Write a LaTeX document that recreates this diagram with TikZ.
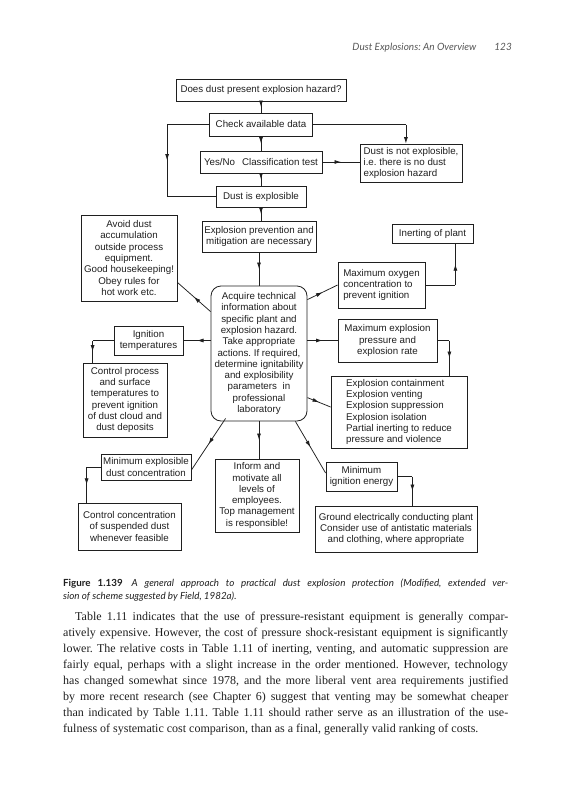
\documentclass[tikz,border=0pt]{standalone}
\usepackage{fontspec}
\setmainfont{Liberation Serif}
\newfontfamily\diagfont{Liberation Sans}
\newfontfamily\capfont{Lato}
\usetikzlibrary{arrows.meta,decorations.markings}
\definecolor{ink}{gray}{0.12}
\frenchspacing
\begin{document}
\frenchspacing
\begin{tikzpicture}[x=1pt,y=-1pt,
  box/.style={draw=ink, line width=0.8pt, inner sep=0pt, align=center, text=ink,
    font=\diagfont\fontsize{9.75}{11.3}\selectfont},
  lbox/.style={box, align=left},
  conn/.style={draw=ink, line width=0.75pt},
  midarrow/.style={postaction={decorate}, decoration={markings,
    mark=at position 0.5 with {\arrow{Latex[length=6.5pt,width=4pt]}}}},
  endarrow/.style={-{Latex[length=6.5pt,width=4pt]}},
  bodyline/.style={anchor=base west, inner sep=0pt, text=ink, font=\fontsize{12}{16}\selectfont},
  capline/.style={anchor=base west, inner sep=0pt, text=ink, font=\capfont\fontsize{9.8}{12}\selectfont},
]
\useasboundingbox (0,0) rectangle (562,800);

% header
\node[anchor=base east, inner sep=0pt, text=ink!75, font=\capfont\itshape\fontsize{10}{12}\selectfont]
  (header) at (512,51) {Dust Explosions: An Overview\hspace{18pt}123};

% boxes
\node[box, minimum width=170pt, minimum height=22pt] (q) at (261,90) {Does dust present explosion hazard?};
\node[box, minimum width=103pt, minimum height=23pt] (check) at (261,124.5) {Check available data};
\node[box, minimum width=122pt, minimum height=22pt] (yesno) at (261,162) {Yes/No\hspace{7pt}Classification test};
\node[lbox, minimum width=102pt, minimum height=38pt] (notexp) at (411,163) {Dust is not explosible,\\ i.e. there is no dust\\ explosion hazard};
\node[box, minimum width=90pt, minimum height=21pt] (explosible) at (261,196.5) {Dust is explosible};
\node[box, minimum width=114pt, minimum height=31pt] (prev) at (259,236.5) {Explosion prevention and\\ mitigation are necessary};
\node[box, rounded corners=10pt, minimum width=96pt, minimum height=135pt] (central) at (259,353.5)
  {Acquire technical\\ information about\\ specific plant and\\ explosion hazard.\\ Take appropriate\\ actions. If required,\\ determine ignitability\\ and explosibility\\ parameters\hspace{3pt} in\\ professional\\ laboratory};
\node[box, minimum width=96pt, minimum height=86pt] (avoid) at (129,258)
  {Avoid dust\\ accumulation\\ outside process\\ equipment.\\ Good housekeeping!\\ Obey rules for\\ hot work etc.};
\node[box, minimum width=69pt, minimum height=29pt] (ign) at (148.5,340.5) {Ignition\\ temperatures};
\node[box, minimum width=84pt, minimum height=74pt] (ctrlproc) at (125,400)
  {Control process\\ and surface\\ temperatures to\\ prevent ignition\\ of dust cloud and\\ dust deposits};
\node[box, minimum width=90pt, minimum height=26pt] (minexp) at (146,467) {Minimum explosible\\ dust concentration};
\node[box, minimum width=103pt, minimum height=47pt] (ctrlconc) at (129.5,526.5)
  {Control concentration\\ of suspended dust\\ whenever feasible};
\node[box, minimum width=84pt, minimum height=73pt] (inform) at (257,495.5)
  {Inform and\\ motivate all\\ levels of\\ employees.\\ Top management\\ is responsible!};
\node[box, minimum width=71pt, minimum height=29pt] (minign) at (361.5,476.5) {Minimum\\ ignition energy};
\node[box, minimum width=162pt, minimum height=46pt] (ground) at (396,529)
  {Ground electrically conducting plant\\ Consider use of antistatic materials\\ and clothing, where appropriate};
\node[box, minimum width=81pt, minimum height=19pt] (inert) at (432.5,233.5) {Inerting of plant};
\node[lbox, minimum width=87pt, minimum height=46pt] (maxox) at (381.5,285)
  {Maximum oxygen\\ concentration to\\ prevent ignition};
\node[box, minimum width=99pt, minimum height=43pt] (maxexp) at (387.5,340.5)
  {Maximum explosion\\ pressure and\\ explosion rate};
\node[lbox, minimum width=136pt, minimum height=72pt] (contain) at (399,412)
  {Explosion containment\\ Explosion venting\\ Explosion suppression\\ Explosion isolation\\ Partial inerting to reduce\\ pressure and violence};

% connectors
\draw[conn,midarrow] (q.south) -- (q.south |- check.north);
\draw[conn,midarrow] (check.south) -- (check.south |- yesno.north);
\draw[conn,midarrow] (yesno.south) -- (yesno.south |- explosible.north);
\draw[conn] (check.west) -- ++(-42,0) coordinate (k1);
\draw[conn,midarrow] (k1) -- (k1 |- explosible.west) coordinate (k2);
\draw[conn] (k2) -- (explosible.west);
\draw[conn] (check.east) -- ++(93,0) coordinate (k3);
\draw[conn,endarrow] (k3) -- (k3 |- notexp.north);
\draw[conn,midarrow] (yesno.east) -- (yesno.east -| notexp.west);
\draw[conn,midarrow] (explosible.south) -- (explosible.south |- prev.north);
\draw[conn,midarrow] (prev.south) -- (prev.south |- central.north);
\draw[conn,midarrow] ([yshift=-26pt]central.north west) -- ([yshift=19pt]avoid.south east);
\draw[conn,midarrow] (ign.east -| central.west) -- (ign.east);
\draw[conn] (ign.west) -- ++(-21,0) coordinate (k4);
\draw[conn,midarrow] (k4) -- (k4 |- ctrlproc.north);
\draw[conn,midarrow] ([xshift=15pt,yshift=3pt]central.south west) -- ([yshift=-3pt]minexp.east);
\draw[conn] (minexp.west) -- ++(-14,0) coordinate (k5);
\draw[conn,midarrow] (k5) -- (k5 |- ctrlconc.north);
\draw[conn,midarrow] (central.south) -- (central.south |- inform.north);
\draw[conn,midarrow] ([xshift=-12pt]central.south east) -- ([yshift=3.5pt]minign.west);
\draw[conn] (minign.east) -- ++(15,0) coordinate (k6);
\draw[conn,midarrow] (k6) -- (k6 |- ground.north);
\draw[conn,midarrow] ([yshift=-14pt]central.north east) -- (maxox.west);
\draw[conn] (maxox.east) -- ++(30,0) coordinate (k7);
\draw[conn,midarrow] (k7) -- (k7 |- inert.south);
\draw[conn,midarrow] (maxexp.west -| central.east) -- (maxexp.west);
\draw[conn] (maxexp.east) -- ++(12,0) coordinate (k8);
\draw[conn,midarrow] (k8) -- (k8 |- contain.north);
\draw[conn,midarrow] ([yshift=-112pt]central.north east) -- ([yshift=5pt]contain.west);

% caption
\node[capline] (cap1) at (63,586) {\makebox[445pt][s]{\bfseries Figure 1.139\hspace{9pt}\itshape\mdseries A general approach to practical dust explosion protection (Modified, extended ver-}};
\node[capline] (cap2) at (63,599) {\itshape sion of scheme suggested by Field, 1982a).};

% body text
\node[bodyline] (b1) at (75,620) {\makebox[433pt][s]{Table 1.11 indicates that the use of pressure-resistant equipment is generally compar-}};
\node[bodyline] (b2) at (63,636) {\makebox[445pt][s]{atively expensive. However, the cost of pressure shock-resistant equipment is significantly}};
\node[bodyline] (b3) at (63,652) {\makebox[445pt][s]{lower. The relative costs in Table 1.11 of inerting, venting, and automatic suppression are}};
\node[bodyline] (b4) at (63,668) {\makebox[445pt][s]{fairly equal, perhaps with a slight increase in the order mentioned. However, technology}};
\node[bodyline] (b5) at (63,684) {\makebox[445pt][s]{has changed somewhat since 1978, and the more liberal vent area requirements justified}};
\node[bodyline] (b6) at (63,700) {\makebox[445pt][s]{by more recent research (see Chapter 6) suggest that venting may be somewhat cheaper}};
\node[bodyline] (b7) at (63,716) {\makebox[445pt][s]{than indicated by Table 1.11. Table 1.11 should rather serve as an illustration of the use-}};
\node[bodyline] (b8) at (63,732) {fulness of systematic cost comparison, than as a final, generally valid ranking of costs.};
\end{tikzpicture}
\end{document}
